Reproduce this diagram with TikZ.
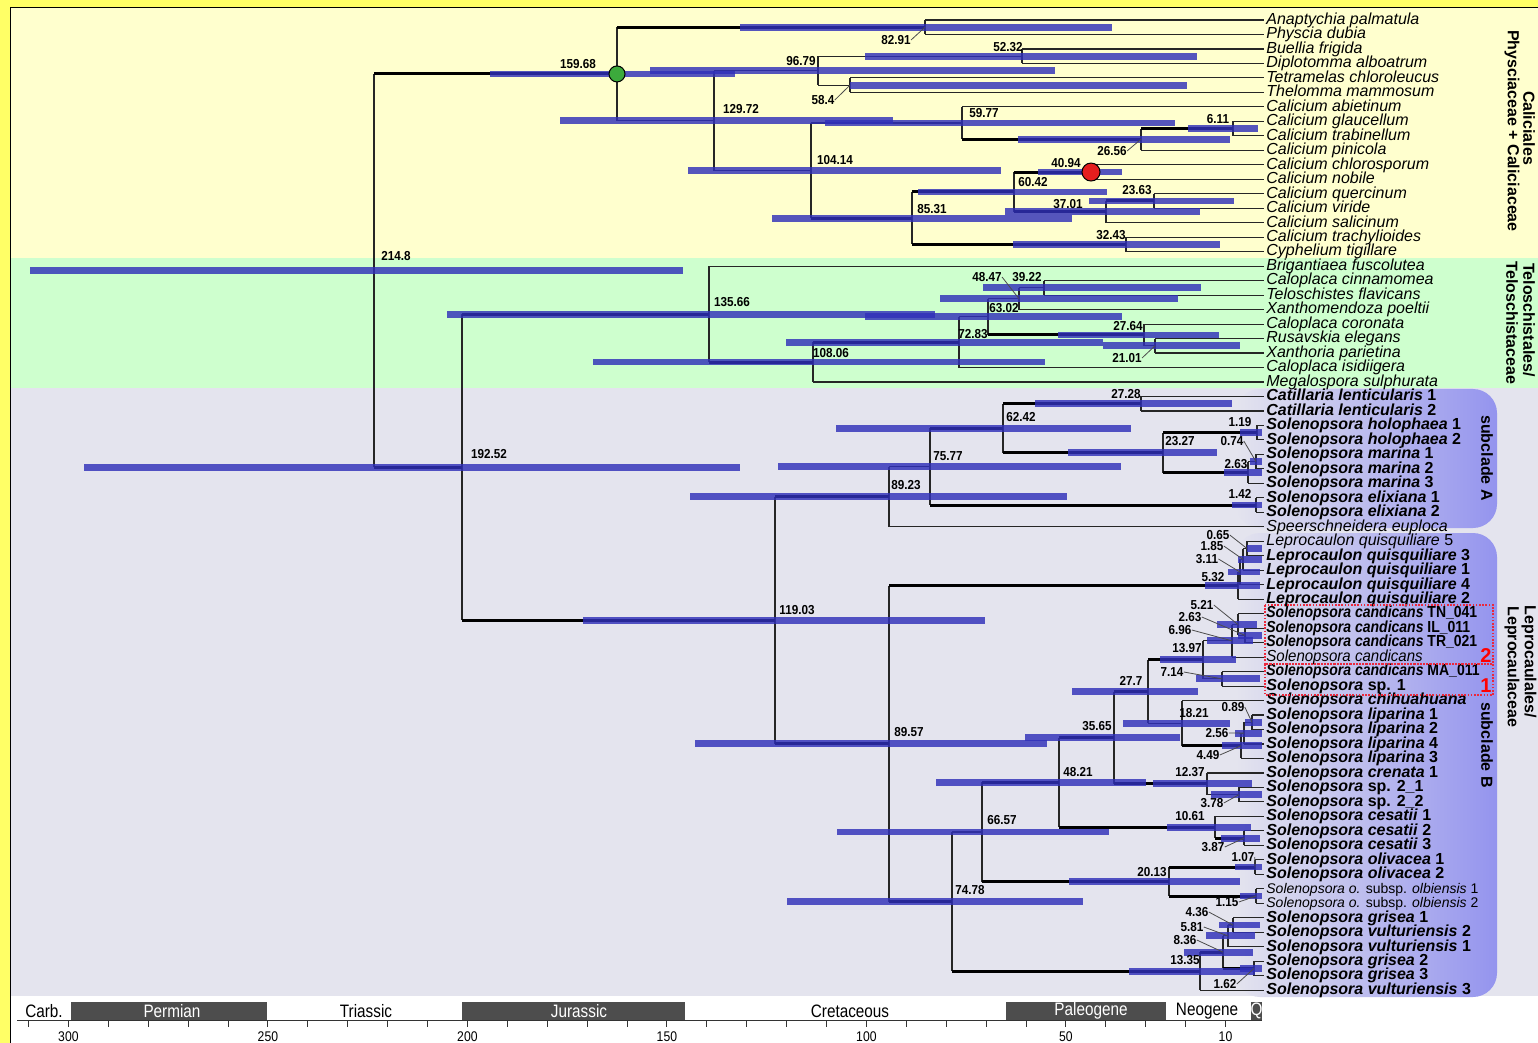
\documentclass[tikz,border=0pt]{standalone}
\usepackage{fontspec}
\setmainfont{Liberation Sans}
\usepackage{graphicx}
\definecolor{frameY}{RGB}{255,255,102}
\definecolor{bgY}{RGB}{255,255,206}
\definecolor{bgG}{RGB}{206,255,206}
\definecolor{bgGr}{RGB}{228,228,238}
\definecolor{hpdblue}{RGB}{48,48,185}
\definecolor{boxR}{RGB}{148,148,238}
\definecolor{pergrey}{RGB}{77,77,77}
\definecolor{circG}{RGB}{60,170,60}
\definecolor{circR}{RGB}{228,30,30}
\definecolor{boxred}{RGB}{235,40,60}
\newcommand\tipfont{\fontsize{8}{9}\selectfont}
\newcommand\agefont{\fontsize{6.5}{7}\selectfont\bfseries}
\newcommand\ag[1]{\scalebox{0.9}[1]{#1}}
\newcommand\sq[1]{\scalebox{0.875}[1]{#1}}
\newcommand\kids[5]{%
  \draw[vl] (#1 |- #2) -- (#1 |- #4);
  \draw[#3] (#1 |- #2) -- (#2);
  \draw[#5] (#1 |- #4) -- (#4);}
\newcommand\hpd[3]{\draw[hpdbar] (#1 -| #2,0) -- (#1 -| #3,0);}
\begin{document}
\begin{tikzpicture}[x=0.5pt,y=-0.5pt,
  vl/.style={draw=black!85,line width=0.55pt},
  br/.style={draw=black!85,line width=0.55pt},
  brk/.style={draw=black,line width=1.5pt},
  hpdbar/.style={draw=hpdblue,line width=3.4pt,opacity=0.82},
  lead/.style={draw=black!70,line width=0.4pt},
  tip/.style={anchor=west,inner sep=1pt,font=\tipfont,text height=6pt,text depth=1.7pt},
  age/.style={inner sep=0pt,font=\agefont},
  grp/.style={font=\fontsize{8}{9}\selectfont\bfseries,rotate=-90,inner sep=0pt},
  per/.style={font=\fontsize{9}{10}\selectfont,inner sep=0pt},
  ticklab/.style={font=\fontsize{7}{8}\selectfont,inner sep=0pt},
  redbox/.style={draw=boxred,line width=0.6pt,dash pattern=on 0.8pt off 0.8pt}]
\useasboundingbox (0,0) rectangle (1538,1043);
% backgrounds
\fill[frameY] (0,0) rectangle (1538,1043);
\fill[bgY] (11,8) rectangle (1538,258);
\fill[bgG] (11,258) rectangle (1538,388);
\fill[bgGr] (11,388) rectangle (1538,996);
\fill[white] (11,996) rectangle (1538,1043);
\draw[black,line width=0.8pt] (10.5,1043) -- (10.5,7.5) -- (1538,7.5);
% subclade boxes
\shade[left color=bgGr,right color=boxR,rounded corners=12pt] (1236,389) rectangle (1497,528);
\shade[left color=bgGr,right color=boxR,rounded corners=12pt] (1236,533) rectangle (1497,997);
% tip labels
\node[tip] (L0) at (1264,{20+14.48*0}) {\textit{Anaptychia palmatula}};
\node[tip] (L1) at (1264,{20+14.48*1}) {\textit{Physcia dubia}};
\node[tip] (L2) at (1264,{20+14.48*2}) {\textit{Buellia frigida}};
\node[tip] (L3) at (1264,{20+14.48*3}) {\textit{Diplotomma alboatrum}};
\node[tip] (L4) at (1264,{20+14.48*4}) {\textit{Tetramelas chloroleucus}};
\node[tip] (L5) at (1264,{20+14.48*5}) {\textit{Thelomma mammosum}};
\node[tip] (L6) at (1264,{20+14.48*6}) {\textit{Calicium abietinum}};
\node[tip] (L7) at (1264,{20+14.48*7}) {\textit{Calicium glaucellum}};
\node[tip] (L8) at (1264,{20+14.48*8}) {\textit{Calicium trabinellum}};
\node[tip] (L9) at (1264,{20+14.48*9}) {\textit{Calicium pinicola}};
\node[tip] (L10) at (1264,{20+14.48*10}) {\textit{Calicium chlorosporum}};
\node[tip] (L11) at (1264,{20+14.48*11}) {\textit{Calicium nobile}};
\node[tip] (L12) at (1264,{20+14.48*12}) {\textit{Calicium quercinum}};
\node[tip] (L13) at (1264,{20+14.48*13}) {\textit{Calicium viride}};
\node[tip] (L14) at (1264,{20+14.48*14}) {\textit{Calicium salicinum}};
\node[tip] (L15) at (1264,{20+14.48*15}) {\textit{Calicium trachylioides}};
\node[tip] (L16) at (1264,{20+14.48*16}) {\textit{Cyphelium tigillare}};
\node[tip] (L17) at (1264,{20+14.48*17}) {\textit{Brigantiaea fuscolutea}};
\node[tip] (L18) at (1264,{20+14.48*18}) {\textit{Caloplaca cinnamomea}};
\node[tip] (L19) at (1264,{20+14.48*19}) {\textit{Teloschistes flavicans}};
\node[tip] (L20) at (1264,{20+14.48*20}) {\textit{Xanthomendoza poeltii}};
\node[tip] (L21) at (1264,{20+14.48*21}) {\textit{Caloplaca coronata}};
\node[tip] (L22) at (1264,{20+14.48*22}) {\textit{Rusavskia elegans}};
\node[tip] (L23) at (1264,{20+14.48*23}) {\textit{Xanthoria parietina}};
\node[tip] (L24) at (1264,{20+14.48*24}) {\textit{Caloplaca isidiigera}};
\node[tip] (L25) at (1264,{20+14.48*25}) {\textit{Megalospora sulphurata}};
\node[tip] (L26) at (1264,{20+14.48*26}) {\bfseries\textit{Catillaria lenticularis} 1};
\node[tip] (L27) at (1264,{20+14.48*27}) {\bfseries\textit{Catillaria lenticularis} 2};
\node[tip] (L28) at (1264,{20+14.48*28}) {\bfseries\textit{Solenopsora holophaea} 1};
\node[tip] (L29) at (1264,{20+14.48*29}) {\bfseries\textit{Solenopsora holophaea} 2};
\node[tip] (L30) at (1264,{20+14.48*30}) {\bfseries\textit{Solenopsora marina} 1};
\node[tip] (L31) at (1264,{20+14.48*31}) {\bfseries\textit{Solenopsora marina} 2};
\node[tip] (L32) at (1264,{20+14.48*32}) {\bfseries\textit{Solenopsora marina} 3};
\node[tip] (L33) at (1264,{20+14.48*33}) {\bfseries\textit{Solenopsora elixiana} 1};
\node[tip] (L34) at (1264,{20+14.48*34}) {\bfseries\textit{Solenopsora elixiana} 2};
\node[tip] (L35) at (1264,{20+14.48*35}) {\textit{Speerschneidera euploca}};
\node[tip] (L36) at (1264,{20+14.48*36}) {\textit{Leprocaulon quisquiliare} 5};
\node[tip] (L37) at (1264,{20+14.48*37}) {\bfseries\textit{Leprocaulon quisquiliare} 3};
\node[tip] (L38) at (1264,{20+14.48*38}) {\bfseries\textit{Leprocaulon quisquiliare} 1};
\node[tip] (L39) at (1264,{20+14.48*39}) {\bfseries\textit{Leprocaulon quisquiliare} 4};
\node[tip] (L40) at (1264,{20+14.48*40}) {\bfseries\textit{Leprocaulon quisquiliare} 2};
\node[tip] (L41) at (1264,{20+14.48*41}) {\sq{\bfseries\textit{Solenopsora candicans} TN\_041}};
\node[tip] (L42) at (1264,{20+14.48*42}) {\sq{\bfseries\textit{Solenopsora candicans} IL\_011}};
\node[tip] (L43) at (1264,{20+14.48*43}) {\sq{\bfseries\textit{Solenopsora candicans} TR\_021}};
\node[tip] (L44) at (1264,{20+14.48*44}) {\scalebox{0.94}[1]{\textit{Solenopsora candicans}}};
\node[tip] (L45) at (1264,{20+14.48*45}) {\sq{\bfseries\textit{Solenopsora candicans} MA\_011}};
\node[tip] (L46) at (1264,{20+14.48*46}) {\bfseries\textit{Solenopsora} sp. 1};
\node[tip] (L47) at (1264,{20+14.48*47}) {\bfseries\textit{Solenopsora chihuahuana}};
\node[tip] (L48) at (1264,{20+14.48*48}) {\bfseries\textit{Solenopsora liparina} 1};
\node[tip] (L49) at (1264,{20+14.48*49}) {\bfseries\textit{Solenopsora liparina} 2};
\node[tip] (L50) at (1264,{20+14.48*50}) {\bfseries\textit{Solenopsora liparina} 4};
\node[tip] (L51) at (1264,{20+14.48*51}) {\bfseries\textit{Solenopsora liparina} 3};
\node[tip] (L52) at (1264,{20+14.48*52}) {\bfseries\textit{Solenopsora crenata} 1};
\node[tip] (L53) at (1264,{20+14.48*53}) {\bfseries\textit{Solenopsora} sp. 2\_1};
\node[tip] (L54) at (1264,{20+14.48*54}) {\bfseries\textit{Solenopsora} sp. 2\_2};
\node[tip] (L55) at (1264,{20+14.48*55}) {\bfseries\textit{Solenopsora cesatii} 1};
\node[tip] (L56) at (1264,{20+14.48*56}) {\bfseries\textit{Solenopsora cesatii} 2};
\node[tip] (L57) at (1264,{20+14.48*57}) {\bfseries\textit{Solenopsora cesatii} 3};
\node[tip] (L58) at (1264,{20+14.48*58}) {\bfseries\textit{Solenopsora olivacea} 1};
\node[tip] (L59) at (1264,{20+14.48*59}) {\bfseries\textit{Solenopsora olivacea} 2};
\node[tip,font=\fontsize{7}{8}\selectfont] (L60) at (1264,{20+14.48*60}) {\textit{Solenopsora o.} subsp. \textit{olbiensis} 1};
\node[tip,font=\fontsize{7}{8}\selectfont] (L61) at (1264,{20+14.48*61}) {\textit{Solenopsora o.} subsp. \textit{olbiensis} 2};
\node[tip] (L62) at (1264,{20+14.48*62}) {\bfseries\textit{Solenopsora grisea} 1};
\node[tip] (L63) at (1264,{20+14.48*63}) {\bfseries\textit{Solenopsora vulturiensis} 2};
\node[tip] (L64) at (1264,{20+14.48*64}) {\bfseries\textit{Solenopsora vulturiensis} 1};
\node[tip] (L65) at (1264,{20+14.48*65}) {\bfseries\textit{Solenopsora grisea} 2};
\node[tip] (L66) at (1264,{20+14.48*66}) {\bfseries\textit{Solenopsora grisea} 3};
\node[tip] (L67) at (1264,{20+14.48*67}) {\bfseries\textit{Solenopsora vulturiensis} 3};
% internal nodes
\coordinate (nA) at (925,27.24);
\coordinate (nB) at (1022,56.2);
\coordinate (nC) at (850,85.16);
\coordinate (nD) at (818,70.68);
\coordinate (nE) at (1233,128.6);
\coordinate (nF) at (1141,139.22);
\coordinate (nG) at (962,123.05);
\coordinate (nH) at (1091,172.04);
\coordinate (nI) at (1154,201);
\coordinate (nJ) at (1106,211.86);
\coordinate (nK) at (1014,191.95);
\coordinate (nL) at (1126,244.44);
\coordinate (nM) at (912,218.2);
\coordinate (nN) at (811,170.63);
\coordinate (nO) at (714,120.66);
\coordinate (nP) at (617,73.95);
\coordinate (nQ) at (1044,287.88);
\coordinate (nR) at (1019,298.74);
\coordinate (nS) at (1155,345.8);
\coordinate (nT) at (1144,334.94);
\coordinate (nU) at (988,316.84);
\coordinate (nV) at (959,342.18);
\coordinate (nW) at (813,362.09);
\coordinate (nX) at (709,314.13);
\coordinate (a1) at (1141,403.72);
\coordinate (a2) at (1257,432.68);
\coordinate (a3) at (1256,461.64);
\coordinate (a4) at (1248,472.5);
\coordinate (a5) at (1163,452.59);
\coordinate (a6) at (1003,428.16);
\coordinate (a7) at (1256,505.08);
\coordinate (a8) at (930,466.62);
\coordinate (a9) at (889,496.71);
\coordinate (b1) at (1247,548.52);
\coordinate (b2) at (1243,559.38);
\coordinate (b3) at (1240,572.05);
\coordinate (b4) at (1238,585.63);
\coordinate (c1) at (1245,635.4);
\coordinate (c2) at (1238,624.54);
\coordinate (c3) at (1232,640.83);
\coordinate (c4) at (1222,678.84);
\coordinate (c5) at (1203,659.84);
\coordinate (d1) at (1252,722.28);
\coordinate (d2) at (1244,733.14);
\coordinate (d3) at (1241,745.81);
\coordinate (d4) at (1182,723.19);
\coordinate (c6) at (1148,691.52);
\coordinate (e1) at (1239,794.68);
\coordinate (e2) at (1207,783.82);
\coordinate (c7) at (1114,737.67);
\coordinate (f1) at (1244,838.12);
\coordinate (f2) at (1215,827.26);
\coordinate (c8) at (1059,782.47);
\coordinate (g1) at (1255,867.08);
\coordinate (g2) at (1256,896.04);
\coordinate (g3) at (1169,881.56);
\coordinate (c9) at (982,832.02);
\coordinate (h1) at (1233,925);
\coordinate (h2) at (1228,935.86);
\coordinate (h3) at (1254,968.44);
\coordinate (h4) at (1223,952.15);
\coordinate (h5) at (1200,971.16);
\coordinate (c10) at (952,901.59);
\coordinate (k1) at (889,743.61);
\coordinate (k2) at (775,620.16);
\coordinate (k3) at (462,467.14);
\coordinate (rt) at (374,270.55);
% branches
\kids{nA}{L0.west}{br}{L1.west}{br}
\kids{nB}{L2.west}{br}{L3.west}{br}
\kids{nC}{L4.west}{br}{L5.west}{br}
\kids{nD}{nB}{br}{nC}{br}
\kids{nE}{L7.west}{br}{L8.west}{br}
\kids{nF}{nE}{brk}{L9.west}{br}
\kids{nG}{L6.west}{br}{nF}{brk}
\kids{nH}{L10.west}{br}{L11.west}{br}
\kids{nI}{L12.west}{br}{L13.west}{br}
\kids{nJ}{nI}{brk}{L14.west}{br}
\kids{nK}{nH}{brk}{nJ}{brk}
\kids{nL}{L15.west}{br}{L16.west}{br}
\kids{nM}{nK}{brk}{nL}{brk}
\kids{nN}{nG}{br}{nM}{brk}
\kids{nO}{nD}{br}{nN}{br}
\kids{nP}{nA}{brk}{nO}{br}
\kids{nQ}{L18.west}{br}{L19.west}{br}
\kids{nR}{nQ}{br}{L20.west}{br}
\kids{nS}{L22.west}{br}{L23.west}{br}
\kids{nT}{L21.west}{br}{nS}{br}
\kids{nU}{nR}{br}{nT}{brk}
\kids{nV}{nU}{br}{L24.west}{br}
\kids{nW}{nV}{brk}{L25.west}{br}
\kids{nX}{L17.west}{br}{nW}{brk}
\kids{a1}{L26.west}{br}{L27.west}{br}
\kids{a2}{L28.west}{br}{L29.west}{br}
\kids{a3}{L30.west}{br}{L31.west}{br}
\kids{a4}{a3}{br}{L32.west}{br}
\kids{a5}{a2}{brk}{a4}{brk}
\kids{a6}{a1}{brk}{a5}{brk}
\kids{a7}{L33.west}{br}{L34.west}{br}
\kids{a8}{a6}{brk}{a7}{brk}
\kids{a9}{a8}{br}{L35.west}{br}
\kids{b1}{L36.west}{br}{L37.west}{br}
\kids{b2}{b1}{br}{L38.west}{br}
\kids{b3}{b2}{br}{L39.west}{br}
\kids{b4}{b3}{br}{L40.west}{br}
\kids{c1}{L42.west}{br}{L43.west}{br}
\kids{c2}{L41.west}{br}{c1}{br}
\kids{c3}{c2}{br}{L44.west}{br}
\kids{c4}{L45.west}{br}{L46.west}{br}
\kids{c5}{c3}{br}{c4}{br}
\kids{d1}{L48.west}{br}{L49.west}{br}
\kids{d2}{d1}{br}{L50.west}{br}
\kids{d3}{d2}{br}{L51.west}{br}
\kids{d4}{L47.west}{br}{d3}{brk}
\kids{c6}{c5}{brk}{d4}{br}
\kids{e1}{L53.west}{br}{L54.west}{br}
\kids{e2}{L52.west}{br}{e1}{br}
\kids{c7}{c6}{brk}{e2}{brk}
\kids{f1}{L56.west}{br}{L57.west}{br}
\kids{f2}{L55.west}{br}{f1}{brk}
\kids{c8}{c7}{brk}{f2}{brk}
\kids{g1}{L58.west}{br}{L59.west}{br}
\kids{g2}{L60.west}{br}{L61.west}{br}
\kids{g3}{g1}{brk}{g2}{brk}
\kids{c9}{c8}{brk}{g3}{brk}
\kids{h1}{L62.west}{br}{L63.west}{br}
\kids{h2}{h1}{br}{L64.west}{br}
\kids{h3}{L65.west}{br}{L66.west}{br}
\kids{h4}{h2}{br}{h3}{brk}
\kids{h5}{h4}{brk}{L67.west}{br}
\kids{c10}{c9}{br}{h5}{brk}
\kids{k1}{b4}{brk}{c10}{brk}
\kids{k2}{a9}{brk}{k1}{brk}
\kids{k3}{nX}{brk}{k2}{brk}
\kids{rt}{nP}{brk}{k3}{brk}
% HPD bars
\hpd{rt}{30}{683} \hpd{k3}{84}{740} \hpd{nP}{490}{735} \hpd{nO}{560}{893}
\hpd{nD}{650}{1055} \hpd{nA}{740}{1112} \hpd{nB}{865}{1197} \hpd{nC}{850}{1187}
\hpd{nG}{825}{1175} \hpd{nE}{1188}{1258} \hpd{nF}{1018}{1230} \hpd{nN}{688}{1001}
\hpd{nH}{1038}{1122} \hpd{nK}{918}{1107} \hpd{nM}{772}{1072} \hpd{nJ}{1005}{1200}
\hpd{nI}{1089}{1234} \hpd{nL}{1013}{1220}
\hpd{nX}{447}{935} \hpd{nU}{865}{1122} \hpd{nW}{593}{1045} \hpd{nV}{786}{1103}
\hpd{nR}{940}{1178} \hpd{nQ}{983}{1201} \hpd{nT}{1058}{1219} \hpd{nS}{1103}{1240}
\hpd{k2}{583}{985} \hpd{a9}{690}{1067} \hpd{a8}{778}{1121} \hpd{a6}{836}{1131}
\hpd{a1}{1035}{1232} \hpd{a5}{1068}{1217} \hpd{a2}{1240}{1262} \hpd{a3}{1250}{1262}
\hpd{a4}{1224}{1262} \hpd{a7}{1232}{1262}
\hpd{k1}{695}{1047} \hpd{b4}{1205}{1260} \hpd{b3}{1228}{1260} \hpd{b2}{1238}{1262} \hpd{b1}{1247}{1262}
\hpd{c2}{1217}{1257} \hpd{c1}{1238}{1262} \hpd{c3}{1207}{1253} \hpd{c5}{1160}{1236}
\hpd{c4}{1196}{1260} \hpd{c6}{1072}{1198} \hpd{d4}{1123}{1230} \hpd{d1}{1245}{1262}
\hpd{d2}{1235}{1262} \hpd{d3}{1222}{1262} \hpd{c7}{1025}{1180} \hpd{c8}{936}{1146}
\hpd{e2}{1153}{1252} \hpd{e1}{1211}{1262} \hpd{f2}{1167}{1251} \hpd{f1}{1221}{1260}
\hpd{c9}{837}{1109} \hpd{g3}{1069}{1240} \hpd{g1}{1235}{1262} \hpd{g2}{1240}{1262}
\hpd{c10}{787}{1083} \hpd{h1}{1219}{1260} \hpd{h2}{1206}{1255} \hpd{h4}{1184}{1253}
\hpd{h3}{1240}{1262} \hpd{h5}{1129}{1255}
% calibration points
\draw[fill=circG,line width=0.5pt] (nP) circle[radius=4pt];
\draw[fill=circR,line width=0.5pt] (nH) circle[radius=4.5pt];
% age labels
\node[age] (lrt) at (396,256) {\ag{214.8}};
\node[age] (lk3) at (489,454) {\ag{192.52}};
\node[age] (lP) at (578,64) {\ag{159.68}};
\node[age] (lO) at (741,109) {\ag{129.72}};
\node[age] (lD) at (801,61) {\ag{96.79}};
\node[age] (lA) at (896,40) {\ag{82.91}};
\node[age] (lB) at (1008,47) {\ag{52.32}};
\node[age] (lC) at (823,100) {\ag{58.4}};
\node[age] (lG) at (984,113) {\ag{59.77}};
\node[age] (lE) at (1218,119) {\ag{6.11}};
\node[age] (lF) at (1112,151) {\ag{26.56}};
\node[age] (lN) at (835,160) {\ag{104.14}};
\node[age] (lH) at (1066,163) {\ag{40.94}};
\node[age] (lK) at (1033,182) {\ag{60.42}};
\node[age] (lI) at (1137,190) {\ag{23.63}};
\node[age] (lJ) at (1068,204) {\ag{37.01}};
\node[age] (lM) at (932,209) {\ag{85.31}};
\node[age] (lL) at (1111,235) {\ag{32.43}};
\node[age] (lQ) at (1027,277) {\ag{39.22}};
\node[age] (lR) at (987,277) {\ag{48.47}};
\node[age] (lU) at (1004,308) {\ag{63.02}};
\node[age] (lV) at (973,334) {\ag{72.83}};
\node[age] (lT) at (1128,326) {\ag{27.64}};
\node[age] (lS) at (1127,358) {\ag{21.01}};
\node[age] (lW) at (831,353) {\ag{108.06}};
\node[age] (lX) at (732,302) {\ag{135.66}};
\node[age] (la1) at (1126,394) {\ag{27.28}};
\node[age] (la6) at (1021,417) {\ag{62.42}};
\node[age] (la2) at (1240,422) {\ag{1.19}};
\node[age] (la5) at (1180,441) {\ag{23.27}};
\node[age] (la3) at (1232,441) {\ag{0.74}};
\node[age] (la4) at (1236,464) {\ag{2.63}};
\node[age] (la8) at (948,456) {\ag{75.77}};
\node[age] (la7) at (1240,494) {\ag{1.42}};
\node[age] (la9) at (906,485) {\ag{89.23}};
\node[age] (lk2) at (797,610) {\ag{119.03}};
\node[age] (lb1) at (1218,535) {\ag{0.65}};
\node[age] (lb2) at (1212,546) {\ag{1.85}};
\node[age] (lb3) at (1207,559) {\ag{3.11}};
\node[age] (lb4) at (1213,577) {\ag{5.32}};
\node[age] (lc2) at (1202,605) {\ag{5.21}};
\node[age] (lc1) at (1190,617) {\ag{2.63}};
\node[age] (lc3) at (1180,630) {\ag{6.96}};
\node[age] (lc5) at (1187,648) {\ag{13.97}};
\node[age] (lc4) at (1172,672) {\ag{7.14}};
\node[age] (lc6) at (1131,681) {\ag{27.7}};
\node[age] (lk1) at (909,732) {\ag{89.57}};
\node[age] (ld1) at (1233,707) {\ag{0.89}};
\node[age] (ld4) at (1194,713) {\ag{18.21}};
\node[age] (ld2) at (1217,733) {\ag{2.56}};
\node[age] (ld3) at (1208,755) {\ag{4.49}};
\node[age] (lc7) at (1097,726) {\ag{35.65}};
\node[age] (le2) at (1190,772) {\ag{12.37}};
\node[age] (lc8) at (1078,772) {\ag{48.21}};
\node[age] (le1) at (1212,803) {\ag{3.78}};
\node[age] (lf2) at (1190,816) {\ag{10.61}};
\node[age] (lc9) at (1002,820) {\ag{66.57}};
\node[age] (lf1) at (1213,847) {\ag{3.87}};
\node[age] (lg1) at (1243,857) {\ag{1.07}};
\node[age] (lg3) at (1152,872) {\ag{20.13}};
\node[age] (lc10) at (970,890) {\ag{74.78}};
\node[age] (lg2) at (1227,902) {\ag{1.15}};
\node[age] (lh1) at (1197,912) {\ag{4.36}};
\node[age] (lh2) at (1192,927) {\ag{5.81}};
\node[age] (lh4) at (1185,940) {\ag{8.36}};
\node[age] (lh5) at (1185,960) {\ag{13.35}};
\node[age] (lh3) at (1225,984) {\ag{1.62}};
% leader lines
\draw[lead] (lA.east) -- (nA);
\draw[lead] (lC.east) -- (nC);
\draw[lead] (lF.east) -- (nF);
\draw[lead] (lR.east) -- (nR);
\draw[lead] (lS.east) -- (nS);
\draw[lead] (la3.east) -- (a3);
\draw[lead] (lb1.east) -- (b1);
\draw[lead] (lb2.east) -- (b2);
\draw[lead] (lb3.east) -- (b3);
\draw[lead] (lc2.east) -- (c2);
\draw[lead] (lc1.east) -- (c1);
\draw[lead] (lc3.east) -- (c3);
\draw[lead] (lc4.east) -- (c4);
\draw[lead] (ld1.east) -- (d1);
\draw[lead] (ld2.east) -- (d2);
\draw[lead] (ld3.east) -- (d3);
\draw[lead] (le1.east) -- (e1);
\draw[lead] (lf1.east) -- (f1);
\draw[lead] (lg1.east) -- (g1);
\draw[lead] (lg2.east) -- (g2);
\draw[lead] (lh1.east) -- (h1);
\draw[lead] (lh2.east) -- (h2);
\draw[lead] (lh4.east) -- (h4);
\draw[lead] (lh3.east) -- (h3);
% red boxes
\draw[redbox] (1265,605) rectangle (1493,664);
\draw[redbox] (1265,664) rectangle (1493,695);
\node[text=red,font=\fontsize{10}{10}\selectfont\bfseries,inner sep=0pt] (r2) at (1486,656) {2};
\node[text=red,font=\fontsize{10}{10}\selectfont\bfseries,inner sep=0pt] (r1) at (1486,686) {1};
% group labels
\node[grp] (gA) at (1487,458) {subclade A};
\node[grp] (gB) at (1487,745) {subclade B};
\node[grp] (g1a) at (1529,128) {Caliciales};
\node[grp] (g1b) at (1512,131) {Physciaceae + Caliciaceae};
\node[grp] (g2a) at (1529,320) {Teloschistales/};
\node[grp] (g2b) at (1512,323) {Teloschistaceae};
\node[grp] (g3a) at (1529,662) {Leprocaulales/};
\node[grp] (g3b) at (1512,667) {Leprocaulaceae};
% time scale
\fill[pergrey] (71,1002) rectangle (267,1020);
\fill[pergrey] (462,1002) rectangle (685,1020);
\fill[pergrey] (1006,1002) rectangle (1166,1020);
\fill[pergrey] (1251,1002) rectangle (1262,1020);
\node[per] (pC) at (44,1011) {\scalebox{0.85}[1]{Carb.}};
\node[per,text=white] (pP) at (172,1011) {\scalebox{0.85}[1]{Permian}};
\node[per] (pT) at (366,1011) {\scalebox{0.85}[1]{Triassic}};
\node[per,text=white] (pJ) at (579,1011) {\scalebox{0.85}[1]{Jurassic}};
\node[per] (pK) at (850,1011) {\scalebox{0.85}[1]{Cretaceous}};
\node[per,text=white] (pPg) at (1091,1011) {\scalebox{0.85}[1]{Paleogene}};
\node[per] (pN) at (1207,1011) {\scalebox{0.85}[1]{Neogene}};
\node[per,text=white] (pQ) at (1256.5,1011) {\scalebox{0.85}[1]{Q}};
\draw[black!80,line width=0.5pt] (17,1020) -- (1262,1020);
\foreach \a in {10,20,...,310} \draw[black!80,line width=0.5pt] ({1225.5-3.99*(\a-10)},1020) -- ++(0,7);
\foreach \a in {300,250,200,150,100,50,10} \node[ticklab] at ({1225.5-3.99*(\a-10)},1037) {\scalebox{0.87}[1]{\a}};
\end{tikzpicture}
\end{document}
